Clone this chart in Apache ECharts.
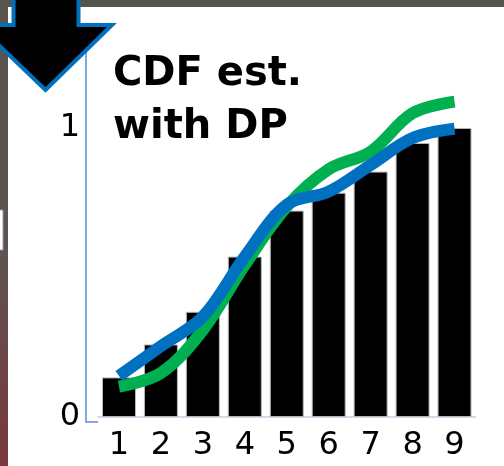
<!DOCTYPE html>
<html>
<head>
<meta charset="utf-8">
<script src="https://cdn.jsdelivr.net/npm/echarts@6/dist/echarts.min.js"></script>
<style>
  html, body { margin: 0; padding: 0; background: #ffffff; }
  #chart { width: 504px; height: 466px; }
</style>
</head>
<body>
<div id="chart"></div>
<script>
// Bins of the distribution
const categories = ['1', '2', '3', '4', '5', '6', '7', '8', '9'];
// True cumulative distribution (bars)
const trueCdf = [0.137, 0.251, 0.364, 0.555, 0.714, 0.776, 0.849, 0.948, 1.0];
// Two differentially private estimates of the CDF
const dpEstimateGreen = [0.105, 0.152, 0.301, 0.526, 0.728, 0.857, 0.918, 1.051, 1.091];
const dpEstimateBlue  = [0.142, 0.245, 0.347, 0.555, 0.734, 0.780, 0.872, 0.965, 0.997];
// Labelled values on the y axis
const yTickValues = [0, 1];
const titleLines = ['CDF est.', 'with DP'];

// Layout
const W = 504, H = 466;
const GRID = { left: 98, right: 28.5, top: 45, bottom: 44 };
const Y_MIN = -0.0173, Y_MAX = 1.287;
const Y_AXIS_OFFSET = 12;

const chart = echarts.init(document.getElementById('chart'), null, { renderer: 'canvas', width: W, height: H });

const axisFoot = {
  type: 'line',
  shape: { x1: GRID.left - Y_AXIS_OFFSET, y1: H - GRID.bottom, x2: GRID.left, y2: H - GRID.bottom },
  style: { stroke: '#5b8fd4', lineWidth: 1.5 },
  z: 5
};

chart.setOption({
  backgroundColor: '#ffffff',
  animation: false,
  grid: { left: GRID.left, right: GRID.right, top: GRID.top, bottom: GRID.bottom, containLabel: false },
  xAxis: {
    type: 'category',
    data: categories,
    boundaryGap: true,
    axisLine: { show: true, lineStyle: { color: '#c3cfe2', width: 1.5 } },
    axisTick: { show: false },
    axisLabel: { color: '#000000', fontSize: 32, fontFamily: 'DejaVu Sans', margin: 8 }
  },
  yAxis: {
    type: 'value',
    min: Y_MIN,
    max: Y_MAX,
    offset: Y_AXIS_OFFSET,
    splitLine: { show: false },
    axisTick: { show: false },
    axisLine: { show: true, lineStyle: { color: '#5b8fd4', width: 1.5 } },
    axisLabel: {
      customValues: yTickValues,
      color: '#000000', fontSize: 32, fontFamily: 'DejaVu Sans',
      margin: 6, padding: [0, 0, 8, 0]
    }
  },
  series: [
    {
      type: 'bar',
      data: trueCdf,
      barWidth: 34,
      itemStyle: { color: '#000000', borderColor: '#b8b8b8', borderWidth: 1 },
      z: 2
    },
    {
      type: 'line',
      data: dpEstimateGreen,
      smooth: 0.35,
      symbol: 'none',
      lineStyle: { color: '#00b050', width: 12, cap: 'butt' },
      z: 3
    },
    {
      type: 'line',
      data: dpEstimateBlue,
      smooth: 0.35,
      symbol: 'none',
      lineStyle: { color: '#0070c0', width: 12, cap: 'butt' },
      z: 4
    }
  ],
  graphic: [
    // slide edges
    {
      type: 'rect', shape: { x: 0, y: 0, width: 8, height: H }, z: 10,
      style: {
        fill: new echarts.graphic.LinearGradient(0, 0, 0, 1, [
          { offset: 0, color: '#57534f' },
          { offset: 0.55, color: '#5e5352' },
          { offset: 1, color: '#7b383b' }
        ])
      }
    },
    { type: 'rect', shape: { x: 0, y: 0, width: W, height: 7 }, z: 10, style: { fill: '#57534f' } },
    { type: 'rect', shape: { x: -1, y: 210, width: 4, height: 40 }, z: 11, style: { fill: '#ffffff', stroke: '#9a9a9a', lineWidth: 1 } },
    axisFoot,
    // down arrow
    {
      type: 'polygon', z: 20,
      shape: { points: [[13.5, -6], [13.5, 25], [-22, 25], [45.5, 90], [112, 25], [78.5, 25], [78.5, -6]] },
      style: { fill: '#000000', stroke: '#0070c0', lineWidth: 4, lineJoin: 'miter' }
    },
    // heading
    {
      type: 'text', left: 113, top: 48, z: 15,
      style: {
        text: titleLines.join('\n'),
        fill: '#000000',
        font: 'bold 40px "DejaVu Sans"',
        lineHeight: 53
      }
    }
  ]
});
</script>
</body>
</html>
